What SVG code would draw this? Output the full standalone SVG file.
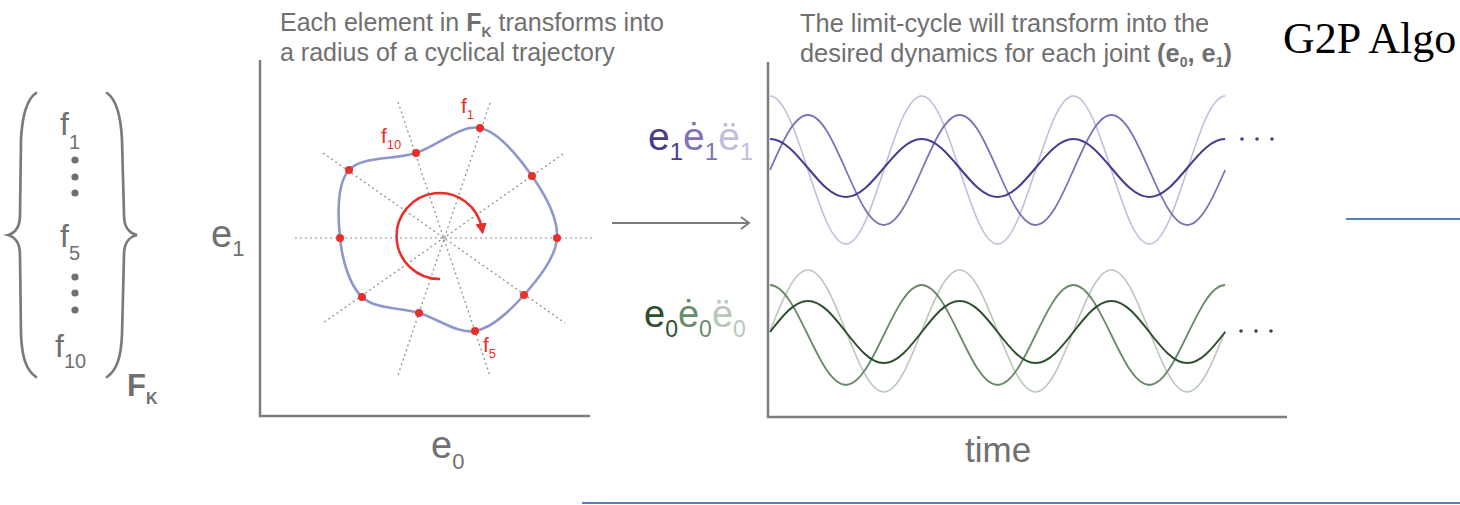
<svg xmlns="http://www.w3.org/2000/svg" width="1460" height="505" viewBox="0 0 1460 505">
<style>
.t{font-family:"Liberation Sans",Arial,sans-serif;}
.grey{fill:#707070;}
.axis{stroke:#7d7d7d;stroke-width:2.5;fill:none;}
.brace{stroke:#7a7a7a;stroke-width:2.7;fill:none;stroke-linecap:round;}
.ray{stroke:#8a8a8a;stroke-width:1.2;stroke-dasharray:2 3;fill:none;}
.pt{fill:#e8302a;}
.red{fill:#e8302a;}
.w{fill:none;}
</style>
<defs>
<marker id="redhead" viewBox="0 0 10 10" refX="5" refY="5" markerWidth="4.5" markerHeight="4.5" orient="auto" markerUnits="strokeWidth">
<path d="M0,0 L10,5 L0,10 z" fill="#e8302a"/>
</marker>
</defs>
<rect width="1460" height="505" fill="#ffffff"/>

<g id="set-FK">
<path class="brace" d="M36,93 C26,100 22,118 21,140 L20,215 C20,228 15,233 8,235 C15,237 20,242 20,255 L21,335 C22,357 26,370 36,377"/>
<path class="brace" d="M107,93 C117,100 121,118 122,140 L124,215 C124,228 129,233 137,235 C129,237 124,242 124,255 L122,335 C121,357 117,370 107,377"/>
<text class="t grey" x="60" y="135" font-size="32">f<tspan font-size="20" dy="14">1</tspan></text>
<circle class="grey" cx="75" cy="160" r="3.6"/>
<circle class="grey" cx="75" cy="177" r="3.6"/>
<circle class="grey" cx="75" cy="193" r="3.6"/>
<text class="t grey" x="60" y="247" font-size="32">f<tspan font-size="20" dy="13">5</tspan></text>
<circle class="grey" cx="75" cy="277" r="3.6"/>
<circle class="grey" cx="75" cy="293" r="3.6"/>
<circle class="grey" cx="75" cy="310" r="3.6"/>
<text class="t grey" x="55" y="357" font-size="32">f<tspan font-size="20" dy="11">10</tspan></text>
<text class="t grey" x="127" y="396" font-size="31" font-weight="bold">F<tspan font-size="16" dy="8">K</tspan></text>
</g>

<g id="limit-cycle-plot">
<text class="t grey" x="280" y="31" font-size="25">Each element in <tspan font-weight="bold">F</tspan><tspan font-weight="bold" font-size="14" dy="6">K</tspan><tspan dy="-6"> transforms into</tspan></text>
<text class="t grey" x="280" y="61" font-size="25">a radius of a cyclical trajectory</text>
<path class="axis" d="M260,60 L260,416 L590,416"/>
<text class="t grey" x="211" y="247" font-size="38">e<tspan font-size="22" dy="9">1</tspan></text>
<text class="t grey" x="431" y="458" font-size="38">e<tspan font-size="22" dy="11">0</tspan></text>
<path class="ray" d="M295,238 L592,238"/>
<path class="ray" d="M490,103 L398,375"/>
<path class="ray" d="M398,102 L490,376"/>
<path class="ray" d="M563,154 L323,323"/>
<path class="ray" d="M323,153 L565,323"/>
<path fill="none" stroke="#8e97cb" stroke-width="2.6" d="M480,128 C499.33,131.83 519.17,157.67 532,176 C544.83,194.33 558.33,218.17 557,238 C555.67,257.83 537.67,279.5 524,295 C510.33,310.5 492.5,328 475,331 C457.5,334 437.83,318.67 419,313 C400.17,307.33 375.17,309.5 362,297 C348.83,284.5 342.17,259.17 340,238 C337.83,216.83 336.33,184.17 349,170 C361.67,155.83 394.17,160 416,153 C437.83,146 460.67,124.17 480,128 Z"/>
<path fill="none" stroke="#e8302a" stroke-width="2.5" marker-end="url(#redhead)" d="M440,279 A43,43 0 1 1 482,229"/>
<circle class="pt" cx="480" cy="128" r="4"/>
<circle class="pt" cx="532" cy="176" r="4"/>
<circle class="pt" cx="557" cy="238" r="4"/>
<circle class="pt" cx="524" cy="295" r="4"/>
<circle class="pt" cx="475" cy="331" r="4"/>
<circle class="pt" cx="419" cy="313" r="4"/>
<circle class="pt" cx="362" cy="297" r="4"/>
<circle class="pt" cx="340" cy="238" r="4"/>
<circle class="pt" cx="349" cy="170" r="4"/>
<circle class="pt" cx="416" cy="153" r="4"/>
<text class="t red" x="461" y="113" font-size="21">f<tspan font-size="13" dy="6">1</tspan></text>
<text class="t red" x="381" y="143" font-size="21">f<tspan font-size="13" dy="6">10</tspan></text>
<text class="t red" x="483" y="352" font-size="21">f<tspan font-size="13" dy="6">5</tspan></text>
</g>

<g id="connectors">
<path d="M612,223 L749,223" stroke="#7d7d7d" stroke-width="2" fill="none"/>
<path d="M741,217 L749,223 L741,229" stroke="#7d7d7d" stroke-width="2" fill="none"/>
</g>

<g id="dynamics-plot">
<text class="t grey" x="800" y="32" font-size="25.4">The limit-cycle will transform into the</text>
<text class="t grey" x="800" y="62" font-size="25.4">desired dynamics for each joint <tspan font-weight="bold">(e</tspan><tspan font-weight="bold" font-size="14" dy="5">0</tspan><tspan font-weight="bold" dy="-5">, e</tspan><tspan font-weight="bold" font-size="14" dy="5">1</tspan><tspan font-weight="bold" dy="-5">)</tspan></text>
<path class="axis" d="M768,62 L768,417 L1287,417"/>
<text class="t" x="648" y="150" font-size="39"><tspan fill="#4a3a8e">e</tspan><tspan fill="#4a3a8e" font-size="24" dy="10">1</tspan><tspan fill="#8072b4" dy="-10">ė</tspan><tspan fill="#8072b4" font-size="24" dy="10">1</tspan><tspan fill="#c2bcdd" dy="-10">ë</tspan><tspan fill="#c2bcdd" font-size="24" dy="10">1</tspan></text>
<text class="t" x="644" y="327" font-size="38"><tspan fill="#2e4f2e">e</tspan><tspan fill="#2e4f2e" font-size="23" dy="10">0</tspan><tspan fill="#6b8a6b" dy="-10">ė</tspan><tspan fill="#6b8a6b" font-size="23" dy="10">0</tspan><tspan fill="#b8c8b8" dy="-10">ë</tspan><tspan fill="#b8c8b8" font-size="23" dy="10">0</tspan></text>
<path class="w" stroke="#c2bcdd" stroke-width="1.6" d="M770,96 c13.73,0 25.56,36.09 37.93,74 c12.37,37.91 24.2,74 37.93,74 c13.73,0 25.56,-36.09 37.93,-74 c12.37,-37.91 24.2,-74 37.93,-74 c13.73,0 25.56,36.09 37.93,74 c12.37,37.91 24.2,74 37.93,74 c13.73,0 25.56,-36.09 37.93,-74 c12.37,-37.91 24.2,-74 37.93,-74 c13.73,0 25.56,36.09 37.93,74 c12.37,37.91 24.2,74 37.93,74 c13.73,0 25.56,-36.09 37.93,-74 c12.37,-37.91 24.2,-74 37.93,-74"/>
<path class="w" stroke="#8072b4" stroke-width="1.8" d="M770,170 c12.37,-28.18 24.2,-55 37.93,-55 c13.73,0 25.56,26.82 37.93,55 c12.37,28.18 24.2,55 37.93,55 c13.73,0 25.56,-26.82 37.93,-55 c12.37,-28.18 24.2,-55 37.93,-55 c13.73,0 25.56,26.82 37.93,55 c12.37,28.18 24.2,55 37.93,55 c13.73,0 25.56,-26.82 37.93,-55 c12.37,-28.18 24.2,-55 37.93,-55 c13.73,0 25.56,26.82 37.93,55 c12.37,28.18 24.2,55 37.93,55 c13.73,0 25.56,-26.82 37.93,-55"/>
<path class="w" stroke="#4a3a8e" stroke-width="2" d="M770,139 c13.73,0 25.56,14.14 37.93,29 c12.37,14.86 24.2,29 37.93,29 c13.73,0 25.56,-14.14 37.93,-29 c12.37,-14.86 24.2,-29 37.93,-29 c13.73,0 25.56,14.14 37.93,29 c12.37,14.86 24.2,29 37.93,29 c13.73,0 25.56,-14.14 37.93,-29 c12.37,-14.86 24.2,-29 37.93,-29 c13.73,0 25.56,14.14 37.93,29 c12.37,14.86 24.2,29 37.93,29 c13.73,0 25.56,-14.14 37.93,-29 c12.37,-14.86 24.2,-29 37.93,-29"/>
<circle cx="1242" cy="139" r="1.8" fill="#4a3a8e"/>
<circle cx="1257" cy="139" r="1.8" fill="#4a3a8e"/>
<circle cx="1272" cy="139" r="1.8" fill="#4a3a8e"/>
<path class="w" stroke="#b8c8b8" stroke-width="1.6" d="M770,331 c12.37,-31.25 24.2,-61 37.93,-61 c13.73,0 25.56,29.75 37.93,61 c12.37,31.25 24.2,61 37.93,61 c13.73,0 25.56,-29.75 37.93,-61 c12.37,-31.25 24.2,-61 37.93,-61 c13.73,0 25.56,29.75 37.93,61 c12.37,31.25 24.2,61 37.93,61 c13.73,0 25.56,-29.75 37.93,-61 c12.37,-31.25 24.2,-61 37.93,-61 c13.73,0 25.56,29.75 37.93,61 c12.37,31.25 24.2,61 37.93,61 c13.73,0 25.56,-29.75 37.93,-61"/>
<path class="w" stroke="#6b8a6b" stroke-width="1.8" d="M770,285 c13.73,0 25.56,24.39 37.93,50 c12.37,25.61 24.2,50 37.93,50 c13.73,0 25.56,-24.39 37.93,-50 c12.37,-25.61 24.2,-50 37.93,-50 c13.73,0 25.56,24.39 37.93,50 c12.37,25.61 24.2,50 37.93,50 c13.73,0 25.56,-24.39 37.93,-50 c12.37,-25.61 24.2,-50 37.93,-50 c13.73,0 25.56,24.39 37.93,50 c12.37,25.61 24.2,50 37.93,50 c13.73,0 25.56,-24.39 37.93,-50 c12.37,-25.61 24.2,-50 37.93,-50"/>
<path class="w" stroke="#2e4f2e" stroke-width="2" d="M770,332 c12.37,-15.88 24.2,-31 37.93,-31 c13.73,0 25.56,15.12 37.93,31 c12.37,15.88 24.2,31 37.93,31 c13.73,0 25.56,-15.12 37.93,-31 c12.37,-15.88 24.2,-31 37.93,-31 c13.73,0 25.56,15.12 37.93,31 c12.37,15.88 24.2,31 37.93,31 c13.73,0 25.56,-15.12 37.93,-31 c12.37,-15.88 24.2,-31 37.93,-31 c13.73,0 25.56,15.12 37.93,31 c12.37,15.88 24.2,31 37.93,31 c13.73,0 25.56,-15.12 37.93,-31"/>
<circle cx="1241" cy="331" r="1.8" fill="#3a4a3a"/>
<circle cx="1256" cy="331" r="1.8" fill="#3a4a3a"/>
<circle cx="1271" cy="331" r="1.8" fill="#3a4a3a"/>
<text class="t grey" x="965" y="462" font-size="35">time</text>
</g>

<g id="g2p-title">
<text x="1283" y="53" font-family="'Liberation Serif','Times New Roman',serif" font-size="44" fill="#000000">G2P Algo</text>
<path d="M1346,219 L1460,219" stroke="#4f81bd" stroke-width="2"/>
<path d="M582,503 L1460,503" stroke="#4f81bd" stroke-width="2"/>
</g>
</svg>
